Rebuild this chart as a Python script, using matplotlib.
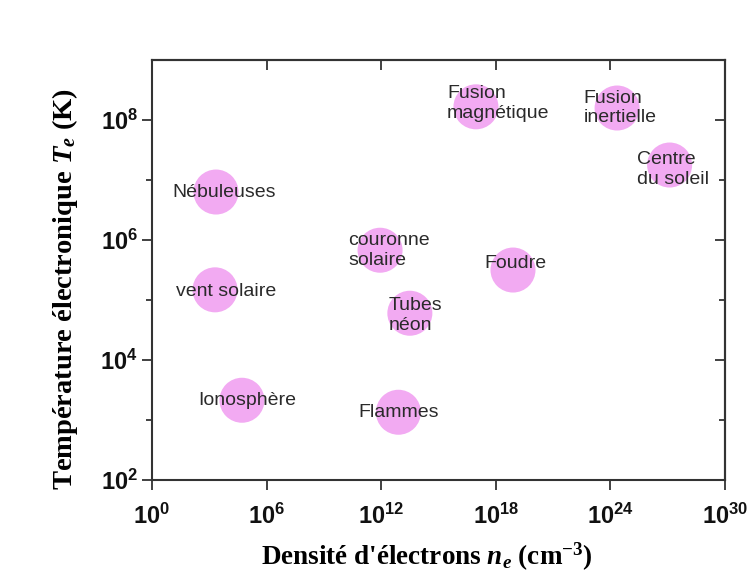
import numpy as np
import matplotlib.pyplot as plt
from matplotlib.ticker import FixedLocator, NullFormatter, NullLocator

plt.rcParams['mathtext.fontset'] = 'custom'
plt.rcParams['mathtext.rm'] = 'Liberation Serif:bold'
plt.rcParams['mathtext.it'] = 'Liberation Serif:bold:italic'
plt.rcParams['mathtext.sf'] = 'Liberation Sans:bold'

# Plasmas : densité électronique (log10 cm^-3) et température (log10 K)
noms = ["Nébuleuses", "vent solaire", "Ionosphère", "Flammes", "Tubes\nnéon",
        "couronne\nsolaire", "Foudre", "Fusion\nmagnétique", "Fusion\ninertielle",
        "Centre\ndu soleil"]
log_ne = [3.35, 3.3, 4.71, 12.9, 13.5, 11.94, 18.9, 16.96, 24.35, 27.1]
log_te = [6.8, 5.17, 3.33, 3.13, 4.78, 5.83, 5.5, 8.22, 8.2, 7.25]

x_ticks = [0, 6, 12, 18, 24, 30]
y_ticks = [2, 4, 6, 8]
y_minor = [3, 5, 7]

# décalages des étiquettes (points)
decalages = [(5.8, 0), (8, -1.5), (3.6, 0), (0, 0), (4.3, -1.5), (6.5, 0),
             (1.5, 5), (16, 2.5), (2, 0), (2.5, -3.3)]

fig = plt.figure(figsize=(7.51, 5.77), dpi=100)
ax = fig.add_axes([0.2024, 0.168, 0.763, 0.728])

ne = 10.0 ** np.array(log_ne)
te = 10.0 ** np.array(log_te)
ax.scatter(ne, te, s=1050, color='#f2aaf2', edgecolors='none', zorder=2)

for nom, x, y, (dx, dy) in zip(noms, ne, te, decalages):
    ax.annotate(nom, (x, y), xytext=(dx, dy), textcoords='offset points',
                ha='center', va='center', multialignment='left',
                fontsize=14, color='#2a2a2a', family='Liberation Sans', zorder=3)

ax.set_xscale('log')
ax.set_yscale('log')
ax.set_xlim(1e0, 1e30)
ax.set_ylim(1e2, 1e9)

ax.xaxis.set_major_locator(FixedLocator([10.0 ** e for e in x_ticks]))
ax.xaxis.set_minor_locator(NullLocator())
ax.yaxis.set_major_locator(FixedLocator([10.0 ** e for e in y_ticks]))
ax.yaxis.set_minor_locator(FixedLocator([10.0 ** e for e in y_minor]))
ax.yaxis.set_minor_formatter(NullFormatter())
ax.set_xticklabels([r'$\mathsf{10^{%d}}$' % e for e in x_ticks])
ax.set_yticklabels([r'$\mathsf{10^{%d}}$' % e for e in y_ticks])

ax.tick_params(which='both', direction='out', labelsize=17, width=1.3,
               color='#333333', labelcolor='#111111', pad=3)
ax.tick_params(axis='x', pad=10)
ax.tick_params(which='major', length=7)
ax.tick_params(which='minor', length=4)

# graduations intérieures en haut et à droite
haut = ax.secondary_xaxis('top')
haut.xaxis.set_major_locator(FixedLocator([10.0 ** e for e in x_ticks]))
haut.xaxis.set_minor_locator(NullLocator())
haut.tick_params(which='both', direction='in', length=7, width=1.3,
                 color='#333333', labeltop=False)
droite = ax.secondary_yaxis('right')
droite.yaxis.set_major_locator(FixedLocator([10.0 ** e for e in y_ticks]))
droite.yaxis.set_minor_locator(FixedLocator([10.0 ** e for e in y_minor]))
droite.tick_params(which='both', direction='in', width=1.3,
                   color='#333333', labelright=False)
droite.tick_params(which='major', length=7)
droite.tick_params(which='minor', length=4)
for a in (ax, haut, droite):
    for s in a.spines.values():
        s.set_linewidth(1.5)
        s.set_color('#333333')

ax.set_xlabel(r"Densité d'électrons $n_e$ (cm$^{-3}$)", family='Liberation Serif',
              fontweight='bold', fontsize=19.5)
ax.set_ylabel(r"Température électronique $T_e$ (K)", family='Liberation Serif',
              fontweight='bold', fontsize=20.5)
ax.xaxis.set_label_coords(0.48, -0.145)
ax.yaxis.set_label_coords(-0.125, 0.455)

fig.savefig('out.png', dpi=100)
